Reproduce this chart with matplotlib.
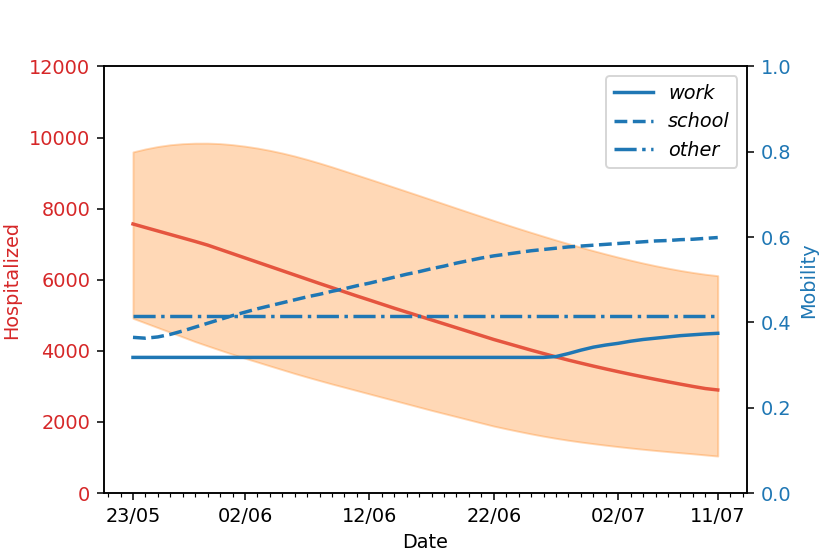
import matplotlib
matplotlib.use("Agg")
import matplotlib.pyplot as plt
from matplotlib.ticker import MultipleLocator

# day index (x axis) and labels for the major ticks
days = list(range(48))
tick_days = [0, 9, 19, 29, 39, 47]
tick_labels = ['23/05', '02/06', '12/06', '22/06', '02/07', '11/07']

# hospitalized: median and band
hosp = [7569, 7470, 7372, 7274, 7176, 7078, 6975, 6855, 6735, 6615,
        6495, 6375, 6255, 6135, 6015, 5895, 5778, 5660, 5543, 5430,
        5315, 5200, 5090, 4980, 4870, 4760, 4650, 4540, 4430, 4320,
        4220, 4120, 4020, 3925, 3830, 3740, 3655, 3572, 3492, 3415,
        3340, 3268, 3198, 3130, 3064, 3000, 2940, 2900]
hosp_hi = [9596, 9680, 9748, 9798, 9828, 9842, 9843, 9830, 9800, 9758,
           9705, 9640, 9565, 9480, 9385, 9283, 9175, 9062, 8948, 8834,
           8719, 8603, 8487, 8370, 8253, 8135, 8017, 7900, 7784, 7668,
           7554, 7442, 7332, 7224, 7118, 7015, 6915, 6818, 6725, 6636,
           6551, 6470, 6395, 6326, 6262, 6205, 6155, 6115]
hosp_lo = [4916, 4785, 4654, 4523, 4392, 4260, 4140, 4022, 3906, 3793,
           3686, 3578, 3471, 3364, 3263, 3165, 3068, 2976, 2883, 2790,
           2697, 2605, 2512, 2419, 2327, 2238, 2150, 2061, 1972, 1884,
           1808, 1735, 1665, 1600, 1540, 1485, 1435, 1390, 1347, 1306,
           1268, 1232, 1198, 1166, 1135, 1105, 1073, 1041]

# mobility
work = [0.318] * 34 + [0.320, 0.327, 0.335, 0.342, 0.347, 0.351, 0.356,
                       0.360, 0.363, 0.366, 0.369, 0.371, 0.373, 0.3745]
school = [0.365, 0.363, 0.366, 0.372, 0.380, 0.389, 0.398, 0.407, 0.416, 0.424,
          0.432, 0.439, 0.446, 0.453, 0.460, 0.466, 0.473, 0.479, 0.486, 0.492,
          0.499, 0.506, 0.513, 0.519, 0.526, 0.532, 0.539, 0.545, 0.551, 0.556,
          0.560, 0.564, 0.568, 0.571, 0.574, 0.577, 0.579, 0.581, 0.583, 0.585,
          0.587, 0.589, 0.591, 0.592, 0.594, 0.595, 0.597, 0.599]
other = [0.416] * 48

fig, ax = plt.subplots(figsize=(6, 4.005), dpi=138.33)

ax.fill_between(days, hosp_lo, hosp_hi, color='tab:orange', alpha=0.3)
ax.plot(days, hosp, color='#e5553f', lw=1.8)
ax.set_ylim(0, 12000)
ax.set_ylabel('Hospitalized', color='tab:red')
ax.tick_params(axis='y', labelcolor='tab:red')
ax.set_xlabel('Date')
ax.set_xticks(tick_days)
ax.set_xticklabels(tick_labels)
ax.xaxis.set_minor_locator(MultipleLocator(1))

ax2 = ax.twinx()
ax2.plot(days, work, color='tab:blue', lw=1.8, ls='-', label='work')
ax2.plot(days, school, color='tab:blue', lw=1.8, ls='--', label='school')
ax2.plot(days, other, color='tab:blue', lw=1.8, ls='-.', label='other')
ax2.set_ylim(0, 1.0)
ax2.set_ylabel('Mobility', color='tab:blue')
ax2.tick_params(axis='y', labelcolor='tab:blue')
ax2.legend(loc='upper right', prop={'style': 'italic'})

plt.savefig('out.png')
